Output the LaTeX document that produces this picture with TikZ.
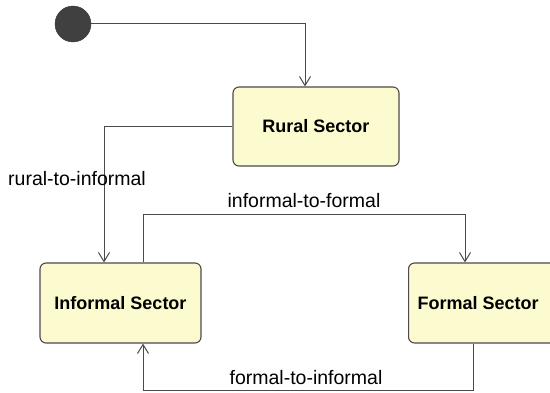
\documentclass[tikz,border=0pt]{standalone}
\usepackage{fontspec}
\setmainfont{Liberation Sans}
\usetikzlibrary{arrows.meta}
\definecolor{boxfill}{HTML}{FCFBCF}
\definecolor{lineclr}{HTML}{4A4A4A}
\begin{document}
\begin{tikzpicture}[x=1pt,y=-1pt,
  state/.style={draw=lineclr,line width=1.1pt,fill=boxfill,rounded corners=6pt,font=\fontsize{18}{21}\selectfont\bfseries,inner sep=0pt},
  conn/.style={draw=lineclr,line width=1pt,-{Straight Barb[length=9pt,width=11pt,line width=1pt]}},
  lbl/.style={font=\fontsize{19.5}{22}\selectfont,text=black,inner sep=0pt}]
\useasboundingbox (0,0) rectangle (550,393);
\clip (0,0) rectangle (550,393);
\node[circle,fill=black!75,draw=black!80,minimum size=36pt,inner sep=0pt] (init) at (73,24) {};
\node[state,minimum width=166pt,minimum height=79pt] (rural) at (316,126.5) {Rural Sector};
\node[state,minimum width=161pt,minimum height=80pt] (informal) at (120.5,303) {Informal Sector};
\node[state,minimum width=148pt,minimum height=80pt,anchor=west] (formal) at (408,303) {\hspace*{-9pt}Formal Sector};
\coordinate (c1) at (305,24);
\coordinate (c2) at (104,127);
\coordinate (c3) at (143,215);
\coordinate (c4) at (465,215);
\coordinate (c5) at (473,391);
\coordinate (c6) at (143,391);
\draw[conn] (init.east) -- (c1) -- (c1 |- rural.north);
\draw[conn] (rural.west |- c2) -- (c2) -- (c2 |- informal.north);
\draw[conn] (c3 |- informal.north) -- (c3) -- (c4) -- (c4 |- formal.north);
\draw[conn] (c5 |- formal.south) -- (c5) -- (c6) -- (c6 |- informal.south);
\node[lbl] (l1) at (77,179) {rural-to-informal};
\node[lbl] (l2) at (304,201) {informal-to-formal};
\node[lbl] (l3) at (306,378) {formal-to-informal};
\end{tikzpicture}
\end{document}
